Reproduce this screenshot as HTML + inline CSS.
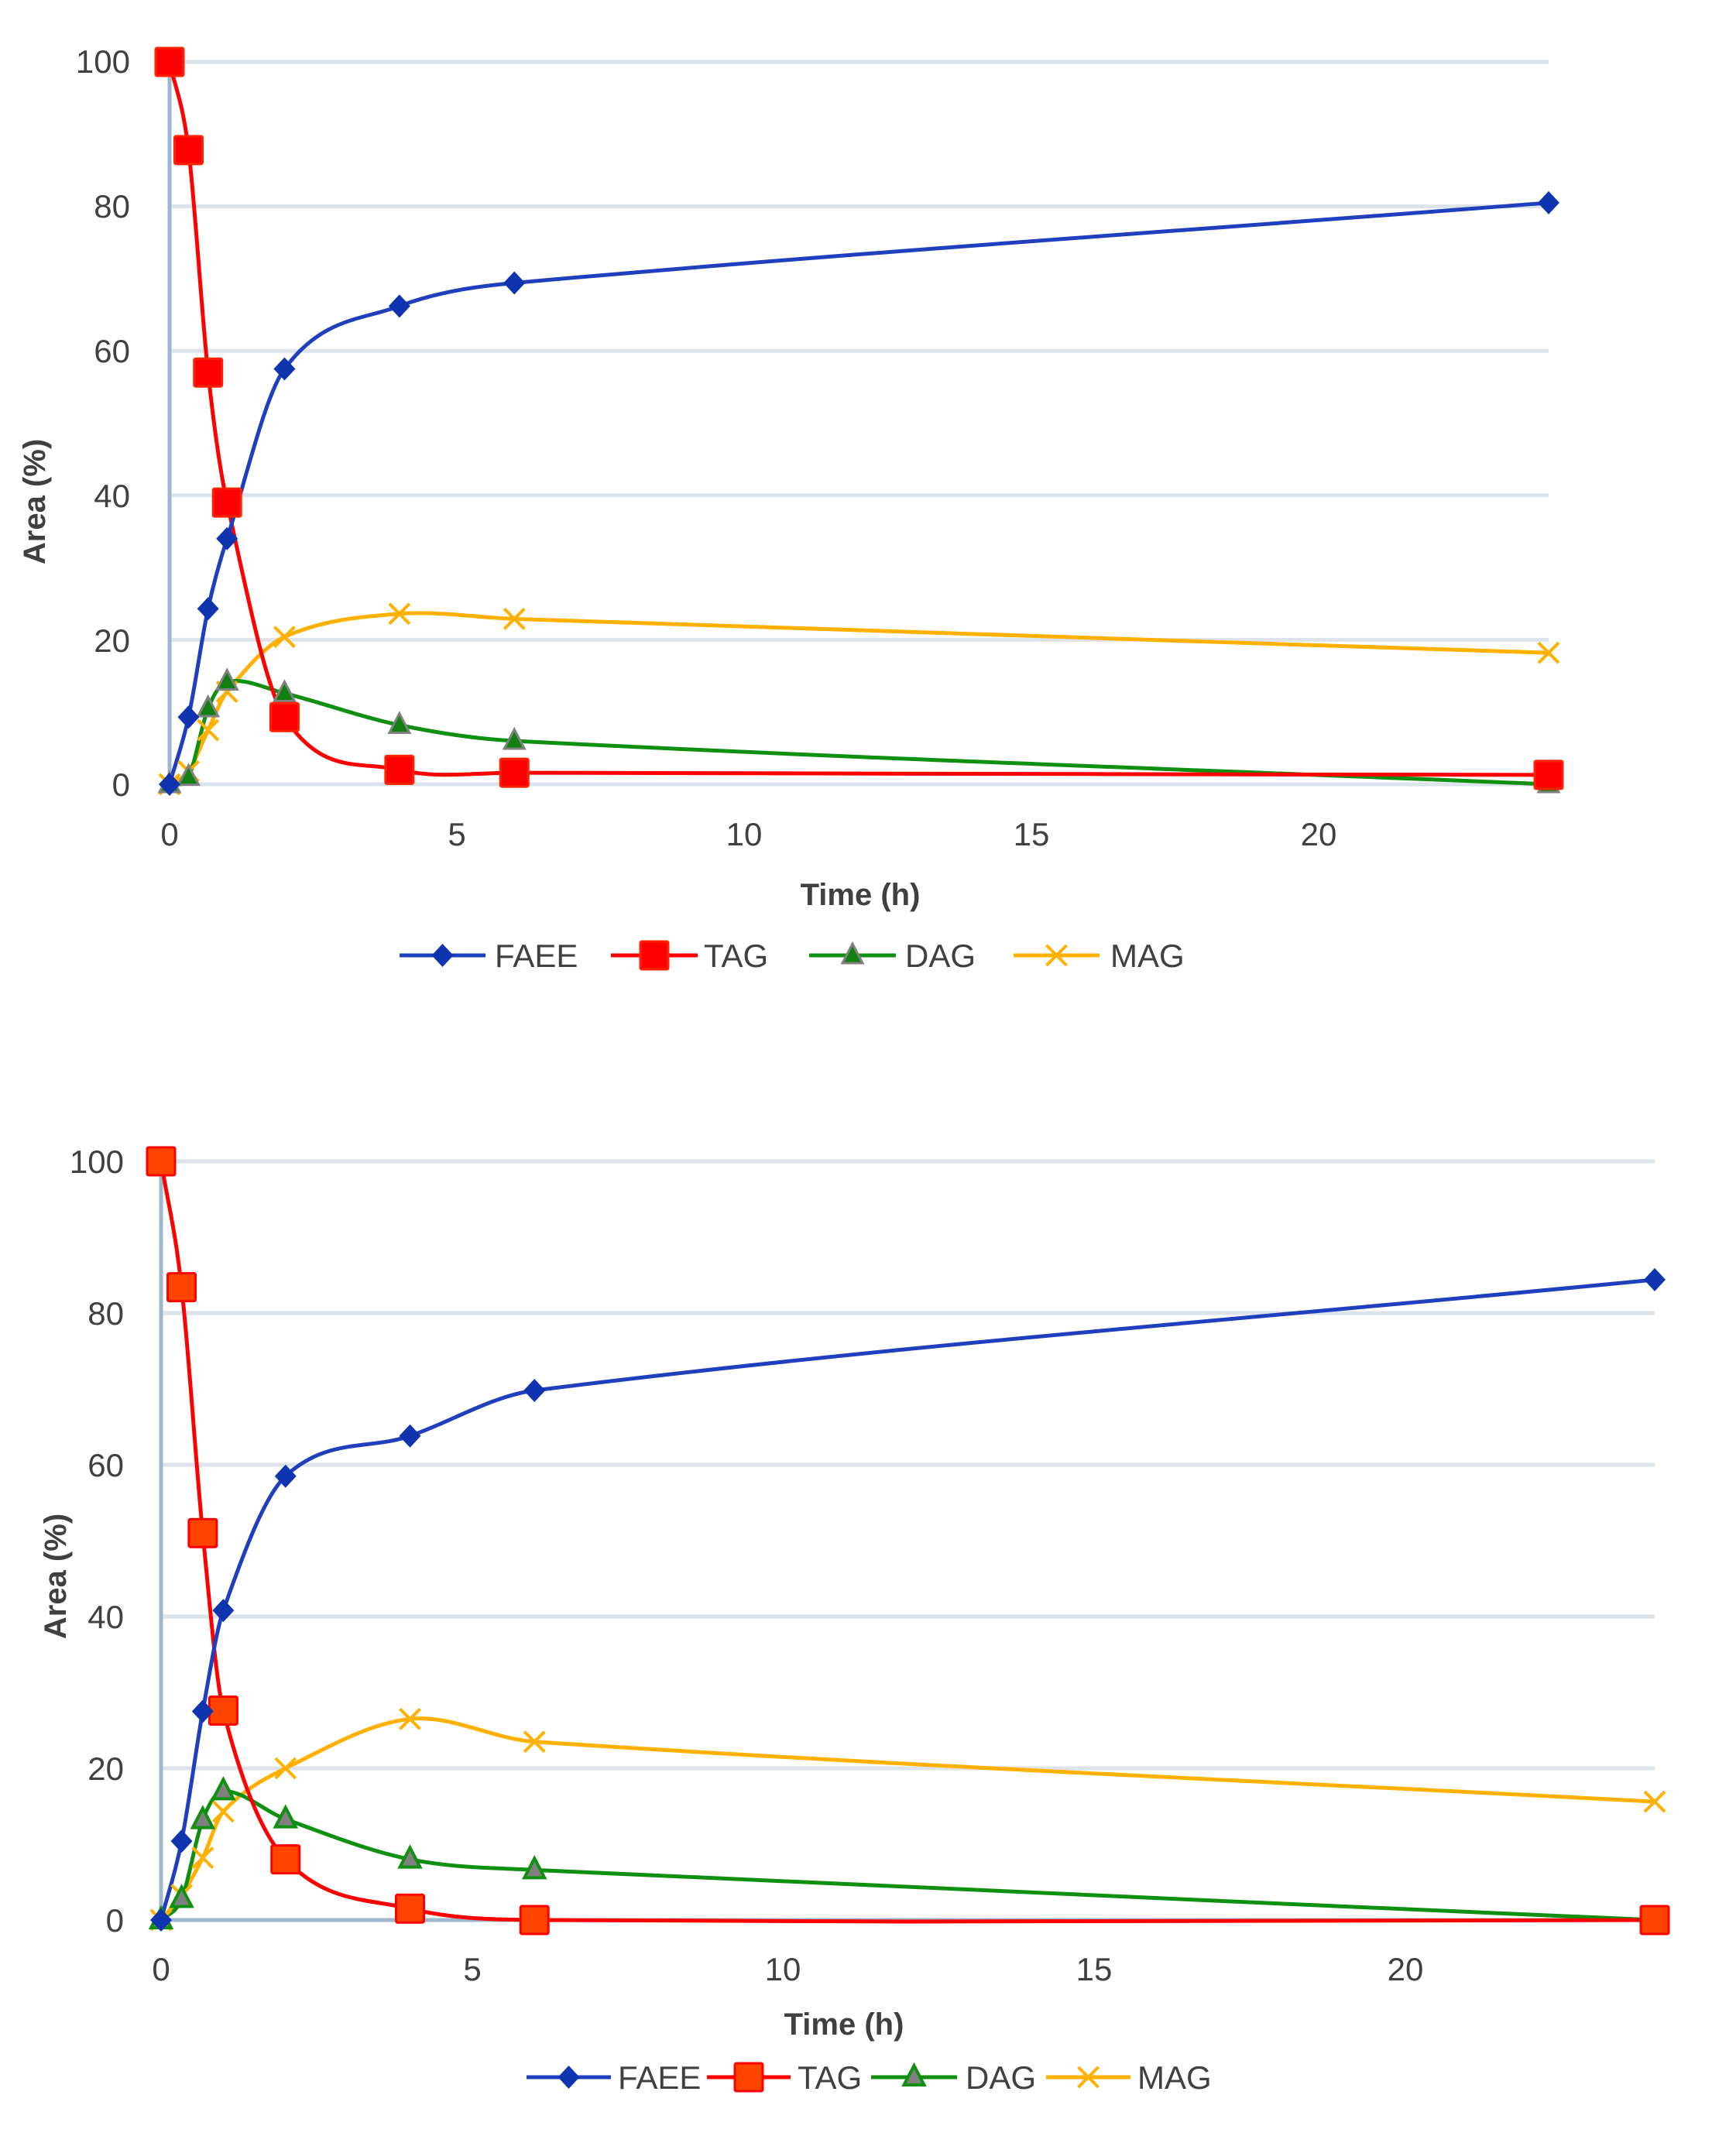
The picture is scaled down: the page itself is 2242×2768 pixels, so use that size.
<!DOCTYPE html>
<html><head><meta charset="utf-8">
<style>
html,body{margin:0;padding:0;background:#fff;}
svg{display:block;}
text{font-family:"Liberation Sans",sans-serif;fill:#404040;}
</style></head>
<body>
<svg id="s" width="2242" height="2768" viewBox="0 0 2242 2768" xmlns="http://www.w3.org/2000/svg">
<g id="top"></g><g id="bot"></g>
<g font-size="42" text-anchor="end">
<text x="168" y="94">100</text><text x="168" y="281">80</text><text x="168" y="468">60</text>
<text x="168" y="655">40</text><text x="168" y="842">20</text><text x="168" y="1028">0</text>
</g>
<g font-size="42" text-anchor="middle">
<text x="219" y="1092">0</text><text x="590" y="1092">5</text><text x="961" y="1092">10</text>
<text x="1332" y="1092">15</text><text x="1703" y="1092">20</text>
</g>
<text x="1111" y="1169" font-size="40" font-weight="bold" text-anchor="middle">Time (h)</text>
<text transform="translate(58,648) rotate(-90)" font-size="40" font-weight="bold" text-anchor="middle">Area (%)</text>
<g font-size="42">
<text x="639" y="1249">FAEE</text><text x="909" y="1249">TAG</text><text x="1169" y="1249">DAG</text><text x="1434" y="1249">MAG</text>
</g>
<g font-size="42" text-anchor="end">
<text x="160" y="1515">100</text><text x="160" y="1711">80</text><text x="160" y="1907">60</text>
<text x="160" y="2103">40</text><text x="160" y="2299">20</text><text x="160" y="2495">0</text>
</g>
<g font-size="42" text-anchor="middle">
<text x="208" y="2558">0</text><text x="610" y="2558">5</text><text x="1011" y="2558">10</text>
<text x="1413" y="2558">15</text><text x="1815" y="2558">20</text>
</g>
<text x="1090" y="2628" font-size="40" font-weight="bold" text-anchor="middle">Time (h)</text>
<text transform="translate(85,2036) rotate(-90)" font-size="40" font-weight="bold" text-anchor="middle">Area (%)</text>
<g font-size="42">
<text x="798" y="2698">FAEE</text><text x="1030" y="2698">TAG</text><text x="1247" y="2698">DAG</text><text x="1469" y="2698">MAG</text>
</g>
</svg>
<script>
var NS="http://www.w3.org/2000/svg";
function el(p,t,a){var e=document.createElementNS(NS,t);for(var k in a)e.setAttribute(k,a[k]);p.appendChild(e);return e;}
var T=[0,0.33,0.67,1,2,4,6,24];
var C={FAEE:"#1F3FBF",TAG:"#FF0000",DAG:"#109010",MAG:"#FFB000"};
function marker(g,name,x,y,v){
 if(name=="FAEE")el(g,"polygon",{points:(x)+","+(y-15)+" "+(x+14)+","+y+" "+x+","+(y+15)+" "+(x-14)+","+y,fill:"#0F34B0"});
 else if(name=="TAG"){el(g,"rect",{x:x-18,y:y-18,width:36,height:36,fill:v==1?"#FF0000":"#FF4400",stroke:v==1?"#FF2200":"#FF0000","stroke-width":3,rx:2});}
 else if(name=="DAG"){if(v==1)el(g,"polygon",{points:x+","+(y-15)+" "+(x+13)+","+(y+10)+" "+(x-13)+","+(y+10),fill:"#108010",stroke:"#808080","stroke-width":3});
  else el(g,"polygon",{points:x+","+(y-15)+" "+(x+13)+","+(y+10)+" "+(x-13)+","+(y+10),fill:"#808080",stroke:"#109010","stroke-width":4});}
 else {el(g,"path",{d:"M"+(x-13)+","+(y-13)+"L"+(x+13)+","+(y+13)+"M"+(x+13)+","+(y-13)+"L"+(x-13)+","+(y+13),stroke:"#FFB000","stroke-width":4,fill:"none"});}
}
function smooth(P){
 var n=P.length,m=[];
 for(var i=0;i<n;i++){var a=P[Math.max(0,i-1)],b=P[Math.min(n-1,i+1)];m.push((b[1]-a[1])/(b[0]-a[0]));}
 var d="M"+P[0][0]+","+P[0][1];
 for(var i=0;i<n-1;i++){var p1=P[i],p2=P[i+1],dx=(p2[0]-p1[0])/3;
  var c1=[p1[0]+dx,p1[1]+m[i]*dx],c2=[p2[0]-dx,p2[1]-m[i+1]*dx];
  d+=" C"+c1+" "+c2+" "+p2;}
 return d;}
function chart(g,x0,x24,y100,y0,D,v,leg,ly){
 var sx=(x24-x0)/24,sy=(y0-y100)/100;
 for(var k=1;k<=5;k++){var y=y0-k*20*sy;el(g,"line",{x1:x0,x2:x24,y1:y,y2:y,stroke:"#DDE3EA","stroke-width":5});}
 el(g,"line",{x1:x0,x2:x0,y1:y100,y2:y0,stroke:"#9EB6CE","stroke-width":5});
 el(g,"line",{x1:x0,x2:x24,y1:y0,y2:y0,stroke:v==1?"#DDE3EA":"#9EB6CE","stroke-width":5});
 ["MAG","DAG","TAG","FAEE"].forEach(function(n){var P=T.map(function(t,i){return [x0+t*sx,y0-D[n][i]*sy];});
  el(g,"path",{d:smooth(P),fill:"none",stroke:C[n],"stroke-width":5});});
 ["MAG","DAG","TAG","FAEE"].forEach(function(n){T.forEach(function(t,i){marker(g,n,x0+t*sx,y0-D[n][i]*sy,v);});});
 leg.forEach(function(L){el(g,"line",{x1:L[1],x2:L[2],y1:ly,y2:ly,stroke:C[L[0]],"stroke-width":5});marker(g,L[0],(L[1]+L[2])/2,ly,v);});
}
chart(document.getElementById("top"),219,2000,80,1013,{
 FAEE:[0,9.3,24.3,34,57.5,66.2,69.4,80.5],
 TAG:[100,87.8,57,39,9.3,2,1.6,1.3],
 DAG:[0,1,10.5,14.2,12.6,8.2,6,0],
 MAG:[0,1.8,7.5,12.8,20.4,23.6,22.9,18.2]},1,
 [["FAEE",516,627],["TAG",789,901],["DAG",1045,1157],["MAG",1309,1420]],1234);
chart(document.getElementById("bot"),208,2137,1500,2480,{
 FAEE:[0,10.4,27.5,40.8,58.5,63.8,69.8,84.4],
 TAG:[100,83.4,51,27.6,8,1.5,0,0],
 DAG:[0,2.8,13.2,17,13.3,8,6.6,0],
 MAG:[0,3.3,8.2,14.3,20,26.5,23.5,15.6]},2,
 [["FAEE",680,789],["TAG",913,1021],["DAG",1125,1236],["MAG",1351,1460]],2683);
</script>
</body></html>
